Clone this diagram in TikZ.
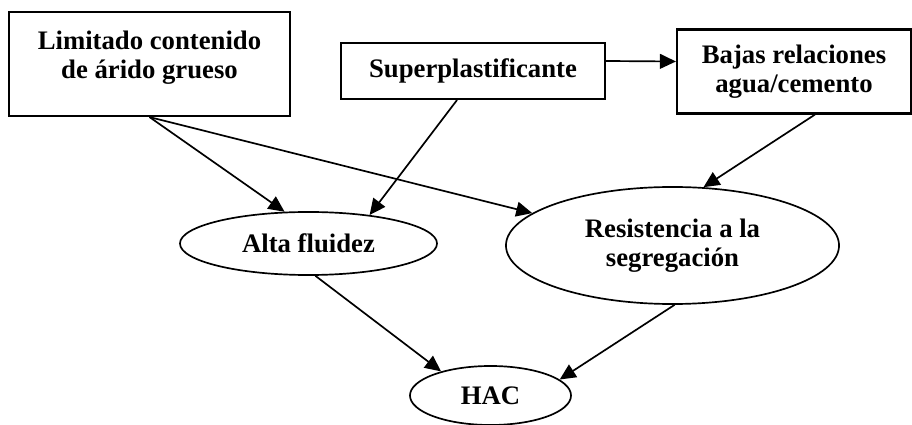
\documentclass[tikz,border=0pt]{standalone}
\usepackage{fontspec}
\setmainfont{Liberation Serif}
\usepackage{tikz}
\usetikzlibrary{arrows.meta}
\usetikzlibrary{shapes}

\begin{document}
\begin{tikzpicture}[x=0.025cm, y=-0.025cm,
    caja/.style={draw, line width=1.5pt, align=center, inner sep=0pt,
      font=\fontsize{19}{21}\selectfont\bfseries},
    elipse/.style={draw, ellipse, line width=1.2pt, align=center, inner sep=0pt,
      font=\fontsize{19}{21}\selectfont\bfseries},
    flecha/.style={line width=1.2pt, -{Triangle[length=0.4cm, width=0.37cm]}}]
      \useasboundingbox (0, 0) rectangle (912, 425);
      \node[caja, minimum width=7.025cm, minimum height=2.6cm] (limitado) at (149.5, 64) {Limitado contenido\\de árido grueso\\[-8pt]\mbox{}};
      \node[caja, minimum width=6.6cm, minimum height=1.4cm] (superp) at (473, 71) {Superplastificante};
      \node[caja, minimum width=5.85cm, minimum height=2.1cm] (bajas) at (794, 71.5) {Bajas relaciones\\agua/cemento};
      \node[elipse, minimum width=6.425cm, minimum height=1.575cm] (alta) at (308.5, 243.5) {Alta fluidez};
      \node[elipse, minimum width=8.325cm, minimum height=2.925cm] (resist) at (672.5, 245.5) {Resistencia a la\\segregación};
      \node[elipse, minimum width=4.025cm, minimum height=1.475cm] (hac) at (490.5, 395.5) {HAC};
      \draw[flecha] ([yshift=0.25cm]superp.east) -- ([yshift=0.25cm]bajas.west);
      \draw[flecha] (limitado.south) -- (alta.127);
      \draw[flecha] (limitado.south) -- (resist.167);
      \draw[flecha] ([xshift=-0.4cm]superp.south) -- (alta.25);
      \draw[flecha] ([xshift=0.525cm]bajas.south) -- (resist.62);
      \draw[flecha] (alta.-78) -- (hac.154);
      \draw[flecha] (resist.-88) -- (hac.13);
    \end{tikzpicture}
\end{document}
